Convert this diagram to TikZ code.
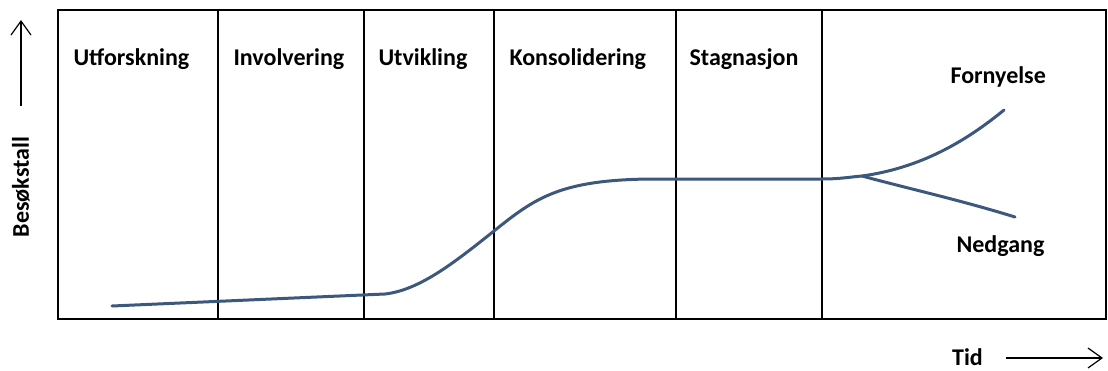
\documentclass[tikz,border=0pt]{standalone}
\usepackage{fontspec}
\setmainfont{Carlito}
\usetikzlibrary{arrows.meta}
\definecolor{kurveblaa}{RGB}{60,88,125}

\begin{document}
\begin{tikzpicture}[x=1pt,y=-1pt,
    fase/.style={anchor=base west,font=\bfseries\fontsize{24}{28}\selectfont},
    ramme/.style={line width=1.4pt},
    kurve/.style={kurveblaa,line width=3pt,line cap=round},
    akse/.style={line width=1.2pt,-{Straight Barb[length=14pt,width=20pt,line width=1.2pt]}}]
    \useasboundingbox (0,0) rectangle (1108,370);
    % ramme og skillelinjer
    \draw[ramme] (58,10) rectangle (1106,319);
    \foreach \x in {218,364,494,676,822}
        \draw[ramme] (\x,10) -- (\x,319);
    % faser
    \node[fase] (utf) at (70,65) {Utforskning};
    \node[fase] (inv) at (230,65) {Involvering};
    \node[fase] (utv) at (375,65) {Utvikling};
    \node[fase] (kon) at (506,65) {Konsolidering};
    \node[fase] (sta) at (686,65) {Stagnasjon};
    \node[fase] (forn) at (947,83) {Fornyelse};
    \node[fase] (ned) at (953,252) {Nedgang};
    % kurven
    \coordinate (start) at (112,306);
    \coordinate (knekk) at (385,294);
    \coordinate (grein) at (862,176);
    \coordinate (opp) at (1004,110);
    \coordinate (ned-slutt) at (1015,217);
    \draw[kurve] (start) -- (knekk)
        .. controls (420,290) and (455,262) .. (494,231)
        .. controls (535,198) and (560,180) .. (650,179)
        -- (822,179) .. controls (840,179) and (850,177) .. (grein)
        .. controls (920,168) and (965,142) .. (opp);
    \draw[kurve] (grein) .. controls (910,189) and (960,200) .. (ned-slutt);
    % akser
    \coordinate (y0) at (21,106);
    \coordinate (y1) at (21,20);
    \draw[akse] (y0) -- (y1);
    \node[font=\bfseries\fontsize{24}{28}\selectfont,rotate=90] (besok) at (21,187) {Besøkstall};
    \node[fase,inner sep=1pt] (tid) at (951,365) {Tid};
    \coordinate (x0) at (1006,358);
    \coordinate (x1) at (1103,358);
    \draw[akse] (x0) -- (x1);
\end{tikzpicture}
\end{document}
